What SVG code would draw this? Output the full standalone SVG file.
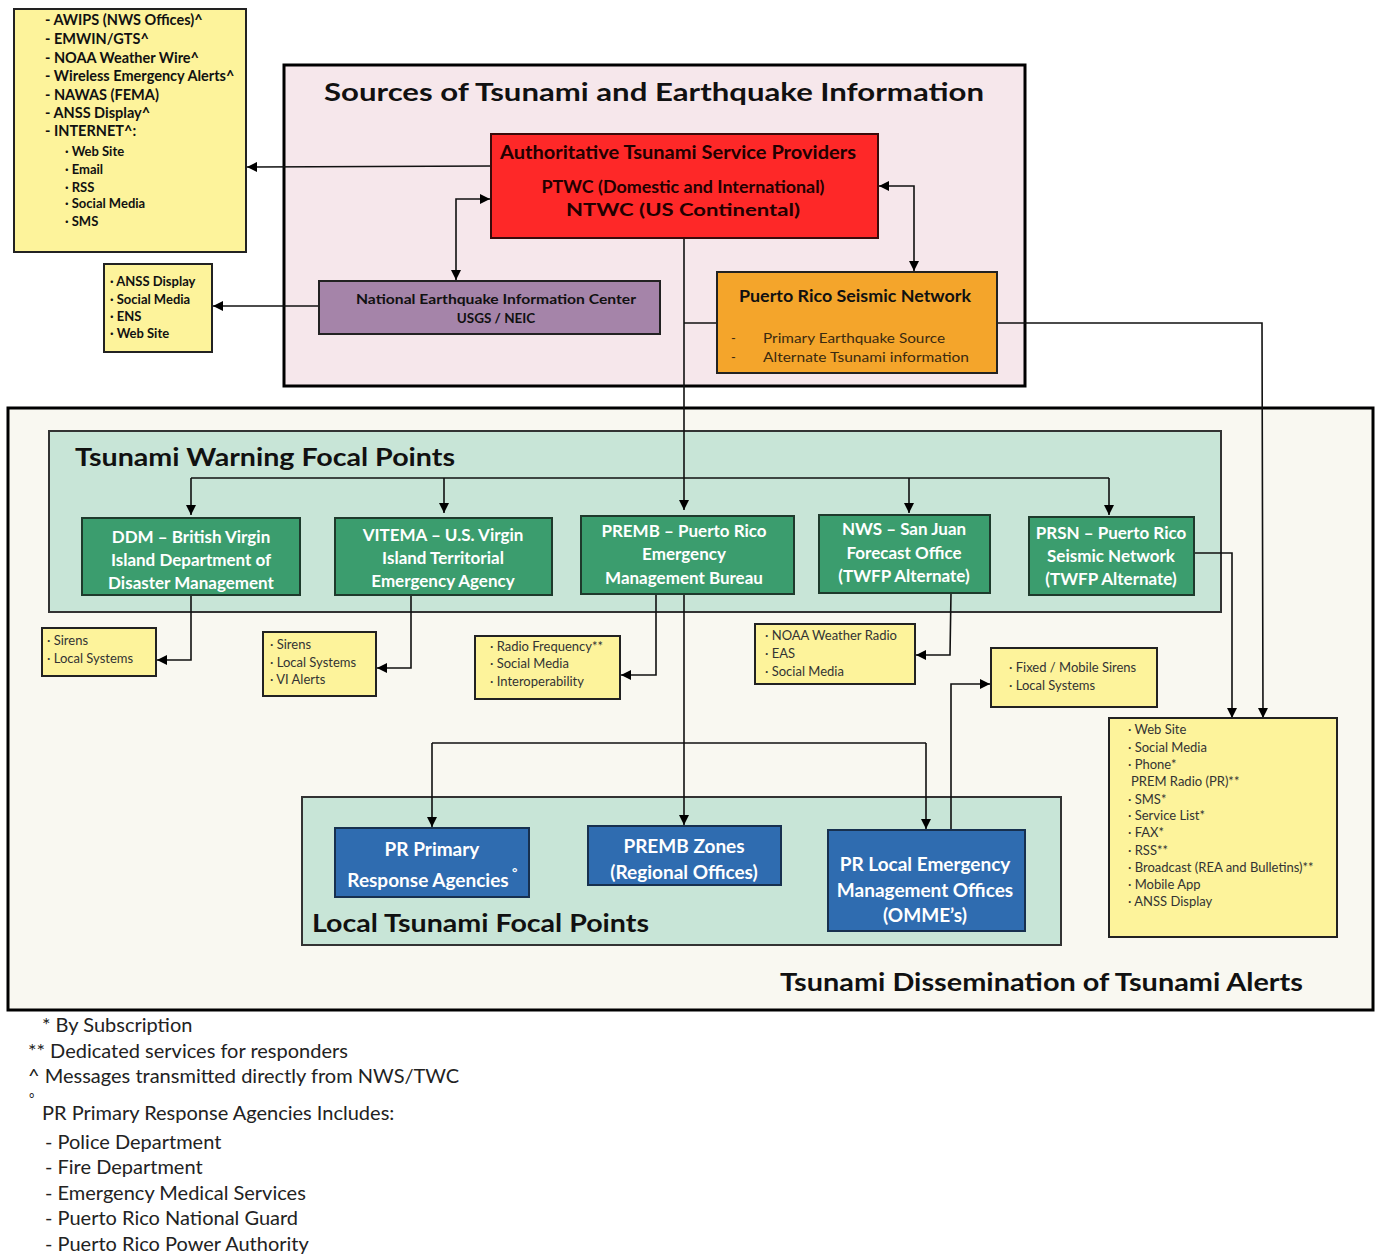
<svg xmlns="http://www.w3.org/2000/svg" width="1381" height="1255" viewBox="0 0 1381 1255">
<defs>
<marker id="ah" viewBox="0 0 10 10" refX="10" refY="5" markerWidth="10" markerHeight="10" markerUnits="userSpaceOnUse" orient="auto-start-reverse">
<path d="M0,0 L10,5 L0,10 z" fill="#000"/>
</marker>
<style>
text{font-family:Lato,"Open Sans","Liberation Sans",sans-serif;}
.yb{fill:#fdf39b;stroke:#222;stroke-width:2;}
.panel{fill:#c8e5d7;stroke:#333;stroke-width:2;}
.grn{fill:#3b9d6e;stroke:#1e3a2c;stroke-width:2;}
.blu{fill:#2f6cb0;stroke:#17304f;stroke-width:2;}
.wt{fill:#fff;font-size:17px;font-weight:bold;text-anchor:middle;}
.bt{fill:#fff;font-size:19px;font-weight:bold;text-anchor:middle;}
.sm{fill:#333;font-size:13px;}
.tl{fill:#111;font-size:14.5px;font-weight:bold;}
.ts{fill:#111;font-size:13px;font-weight:bold;}
.ttl{fill:#111;font-size:25px;font-weight:bold;}
.fn{fill:#222;font-size:20px;}
.deg{fill:#222;font-size:13px;}
.cn{fill:none;stroke:#111;stroke-width:1.6;}
.ca{fill:none;stroke:#111;stroke-width:1.6;marker-end:url(#ah);}
.cb{fill:none;stroke:#111;stroke-width:1.6;marker-end:url(#ah);marker-start:url(#ah);}
</style>
</defs>
<rect width="1381" height="1255" fill="#fff"/>

<!-- outer regions -->
<g id="sources">
<rect x="284" y="65" width="741" height="321" fill="#f6e7eb" stroke="#000" stroke-width="3"/>
<text x="654" y="101" class="ttl" font-size="28" text-anchor="middle" textLength="660" lengthAdjust="spacingAndGlyphs">Sources of Tsunami and Earthquake Information</text>
</g>
<g id="dissemination">
<rect x="8" y="408" width="1365" height="602" fill="#f9f8f1" stroke="#000" stroke-width="3"/>
<text x="780" y="991" class="ttl" textLength="523" lengthAdjust="spacingAndGlyphs">Tsunami  Dissemination  of  Tsunami  Alerts</text>
</g>
<g id="twfp">
<rect x="49" y="431" width="1172" height="181" class="panel"/>
<text x="75" y="466" class="ttl" textLength="380" lengthAdjust="spacingAndGlyphs">Tsunami  Warning  Focal Points</text>
</g>
<g id="ltfp">
<rect x="302" y="797" width="759" height="148" class="panel"/>
<text x="312" y="932" class="ttl" textLength="337" lengthAdjust="spacingAndGlyphs">Local  Tsunami  Focal  Points</text>
</g>

<!-- connectors -->
<g id="connectors">
<path d="M491,166 L247,167" class="ca"/>
<path d="M319,306 L213,306" class="ca"/>
<path d="M490,199 L456,199 L456,280" class="cb"/>
<path d="M879,186 L914,186 L914,271" class="cb"/>
<path d="M684,238 L684,510" class="ca"/>
<path d="M684,323 L717,323" class="cn"/>
<path d="M997,323 L1262,323 L1263,718" class="ca"/>
<path d="M191,478 L1109,478" class="cn"/>
<path d="M191,478 L191,515" class="ca"/>
<path d="M444,478 L444,513" class="ca"/>
<path d="M909,478 L909,513" class="ca"/>
<path d="M1109,478 L1109,515" class="ca"/>
<path d="M191,595 L191,660 L157,660" class="ca"/>
<path d="M411,595 L411,668 L377,668" class="ca"/>
<path d="M656,594 L656,675 L621,675" class="ca"/>
<path d="M684,594 L684,825" class="ca"/>
<path d="M951,593 L950,655 L916,655" class="ca"/>
<path d="M1194,553 L1232,553 L1232,718" class="ca"/>
<path d="M432,743 L926,743" class="cn"/>
<path d="M432,743 L432,827" class="ca"/>
<path d="M926,743 L926,829" class="ca"/>
<path d="M951,830 L951,684 L990,684" class="ca"/>
</g>

<!-- top-left outputs -->
<g id="ptwc-outputs">
<rect x="14" y="9" width="232" height="243" class="yb"/>
<text class="tl" x="45" y="25">- AWIPS (NWS Offices)^</text>
<text class="tl" x="45" y="44">- EMWIN/GTS^</text>
<text class="tl" x="45" y="63">- NOAA Weather Wire^</text>
<text class="tl" x="45" y="81">- Wireless Emergency Alerts^</text>
<text class="tl" x="45" y="100">- NAWAS (FEMA)</text>
<text class="tl" x="45" y="118">- ANSS Display^</text>
<text class="tl" x="45" y="136">- INTERNET^:</text>
<text class="ts" x="65" y="156">· Web Site</text>
<text class="ts" x="65" y="174">· Email</text>
<text class="ts" x="65" y="192">· RSS</text>
<text class="ts" x="65" y="208">· Social Media</text>
<text class="ts" x="65" y="226">· SMS</text>
</g>
<g id="neic-outputs">
<rect x="104" y="264" width="108" height="88" class="yb"/>
<text class="ts" x="110" y="286">· ANSS Display</text>
<text class="ts" x="110" y="304">· Social  Media</text>
<text class="ts" x="110" y="321">· ENS</text>
<text class="ts" x="110" y="338">· Web Site</text>
</g>

<!-- sources nodes -->
<g id="ptwc">
<rect x="491" y="134" width="387" height="104" fill="#fe2828" stroke="#3a0a0a" stroke-width="2"/>
<text x="678" y="159" fill="#200" font-size="18" font-weight="bold" text-anchor="middle" textLength="356" lengthAdjust="spacingAndGlyphs">Authoritative  Tsunami Service Providers</text>
<text x="683" y="193" fill="#200" font-size="16.5" font-weight="bold" text-anchor="middle" textLength="283" lengthAdjust="spacingAndGlyphs">PTWC (Domestic and International)</text>
<text x="683" y="216" fill="#200" font-size="16.5" font-weight="bold" text-anchor="middle" textLength="234" lengthAdjust="spacingAndGlyphs">NTWC (US Continental)</text>
</g>
<g id="neic">
<rect x="319" y="281" width="341" height="53" fill="#a584a9" stroke="#222" stroke-width="2"/>
<text x="496" y="304" fill="#111" font-size="13.5" font-weight="bold" text-anchor="middle" textLength="280" lengthAdjust="spacingAndGlyphs">National  Earthquake  Information  Center</text>
<text x="496" y="323" fill="#111" font-size="13.5" font-weight="bold" text-anchor="middle">USGS / NEIC</text>
</g>
<g id="prsn">
<rect x="717" y="272" width="280" height="101" fill="#f4a52b" stroke="#222" stroke-width="2"/>
<text x="855" y="302" fill="#111" font-size="17" font-weight="bold" text-anchor="middle" textLength="232" lengthAdjust="spacingAndGlyphs">Puerto Rico Seismic Network</text>
<text x="731" y="343" fill="#3a2a10" font-size="13">-</text>
<text x="763" y="343" fill="#3a2a10" font-size="13" textLength="182" lengthAdjust="spacingAndGlyphs">Primary  Earthquake  Source</text>
<text x="731" y="362" fill="#3a2a10" font-size="13">-</text>
<text x="763" y="362" fill="#3a2a10" font-size="13" textLength="206" lengthAdjust="spacingAndGlyphs">Alternate  Tsunami information</text>
</g>

<!-- warning focal points -->
<g id="ddm">
<rect x="82" y="518" width="218" height="77" class="grn"/>
<text class="wt" x="191" y="543">DDM – British Virgin</text>
<text class="wt" x="191" y="566">Island Department of</text>
<text class="wt" x="191" y="589">Disaster Management</text>
</g>
<g id="vitema">
<rect x="335" y="518" width="217" height="77" class="grn"/>
<text class="wt" x="443" y="541">VITEMA – U.S. Virgin</text>
<text class="wt" x="443" y="564">Island Territorial</text>
<text class="wt" x="443" y="587">Emergency Agency</text>
</g>
<g id="premb">
<rect x="581" y="516" width="213" height="78" class="grn"/>
<text class="wt" x="684" y="537">PREMB – Puerto Rico</text>
<text class="wt" x="684" y="560">Emergency</text>
<text class="wt" x="684" y="584">Management Bureau</text>
</g>
<g id="nws">
<rect x="819" y="515" width="171" height="78" class="grn"/>
<text class="wt" x="904" y="535">NWS – San Juan</text>
<text class="wt" x="904" y="559">Forecast Office</text>
<text class="wt" x="904" y="582">(TWFP Alternate)</text>
</g>
<g id="prsn2">
<rect x="1029" y="517" width="165" height="78" class="grn"/>
<text class="wt" x="1111" y="539">PRSN – Puerto Rico</text>
<text class="wt" x="1111" y="562">Seismic Network</text>
<text class="wt" x="1111" y="585">(TWFP Alternate)</text>
</g>

<!-- small outputs -->
<g id="ddm-out">
<rect x="42" y="628" width="114" height="48" class="yb"/>
<text class="sm" x="47" y="645">· Sirens</text>
<text class="sm" x="47" y="663">· Local Systems</text>
</g>
<g id="vitema-out">
<rect x="263" y="632" width="113" height="64" class="yb"/>
<text class="sm" x="270" y="649">· Sirens</text>
<text class="sm" x="270" y="667">· Local Systems</text>
<text class="sm" x="270" y="684">· VI Alerts</text>
</g>
<g id="premb-out">
<rect x="475" y="636" width="145" height="63" class="yb"/>
<text class="sm" x="490" y="651">· Radio Frequency**</text>
<text class="sm" x="490" y="668">· Social Media</text>
<text class="sm" x="490" y="686">· Interoperability</text>
</g>
<g id="nws-out">
<rect x="755" y="624" width="160" height="60" class="yb"/>
<text class="sm" x="765" y="640">· NOAA Weather Radio</text>
<text class="sm" x="765" y="658">· EAS</text>
<text class="sm" x="765" y="676">· Social Media</text>
</g>
<g id="omme-out">
<rect x="991" y="648" width="166" height="59" class="yb"/>
<text class="sm" x="1009" y="672">· Fixed / Mobile Sirens</text>
<text class="sm" x="1009" y="690">· Local Systems</text>
</g>
<g id="prsn-out">
<rect x="1109" y="718" width="228" height="219" class="yb"/>
<text class="sm" x="1128" y="734">· Web Site</text>
<text class="sm" x="1128" y="752">· Social Media</text>
<text class="sm" x="1128" y="769">· Phone*</text>
<text class="sm" x="1131" y="786">PREM Radio (PR)**</text>
<text class="sm" x="1128" y="804">· SMS*</text>
<text class="sm" x="1128" y="820">· Service List*</text>
<text class="sm" x="1128" y="837">· FAX*</text>
<text class="sm" x="1128" y="855">· RSS**</text>
<text class="sm" x="1128" y="872">· Broadcast (REA  and Bulletins)**</text>
<text class="sm" x="1128" y="889">· Mobile App</text>
<text class="sm" x="1128" y="906">· ANSS Display</text>
</g>

<!-- local focal points -->
<g id="pr-primary">
<rect x="335" y="828" width="194" height="69" class="blu"/>
<text class="bt" x="432" y="856">PR Primary</text>
<text class="bt" x="428" y="887">Response Agencies</text>
<text x="512" y="877" fill="#fff" font-size="13" font-weight="bold">°</text>
</g>
<g id="premb-zones">
<rect x="588" y="826" width="193" height="59" class="blu"/>
<text class="bt" x="684" y="853">PREMB Zones</text>
<text class="bt" x="684" y="879">(Regional Offices)</text>
</g>
<g id="omme">
<rect x="828" y="830" width="197" height="101" class="blu"/>
<text class="bt" x="925" y="871">PR Local Emergency</text>
<text class="bt" x="925" y="897">Management Offices</text>
<text class="bt" x="925" y="922">(OMME’s)</text>
</g>

<!-- footnotes -->
<g id="notes">
<text class="fn" x="42" y="1032">* By Subscription</text>
<text class="fn" x="28" y="1058">** Dedicated services for responders</text>
<text class="fn" x="28" y="1083">^ Messages transmitted directly from NWS/TWC</text>
<text class="deg" x="29" y="1103">°</text>
<text class="fn" x="42" y="1120">PR Primary Response Agencies Includes:</text>
<text class="fn" x="45" y="1149">- Police Department</text>
<text class="fn" x="45" y="1174">- Fire Department</text>
<text class="fn" x="45" y="1200">- Emergency Medical Services</text>
<text class="fn" x="45" y="1225">- Puerto Rico National Guard</text>
<text class="fn" x="45" y="1251">- Puerto Rico Power Authority</text>
</g>
</svg>
